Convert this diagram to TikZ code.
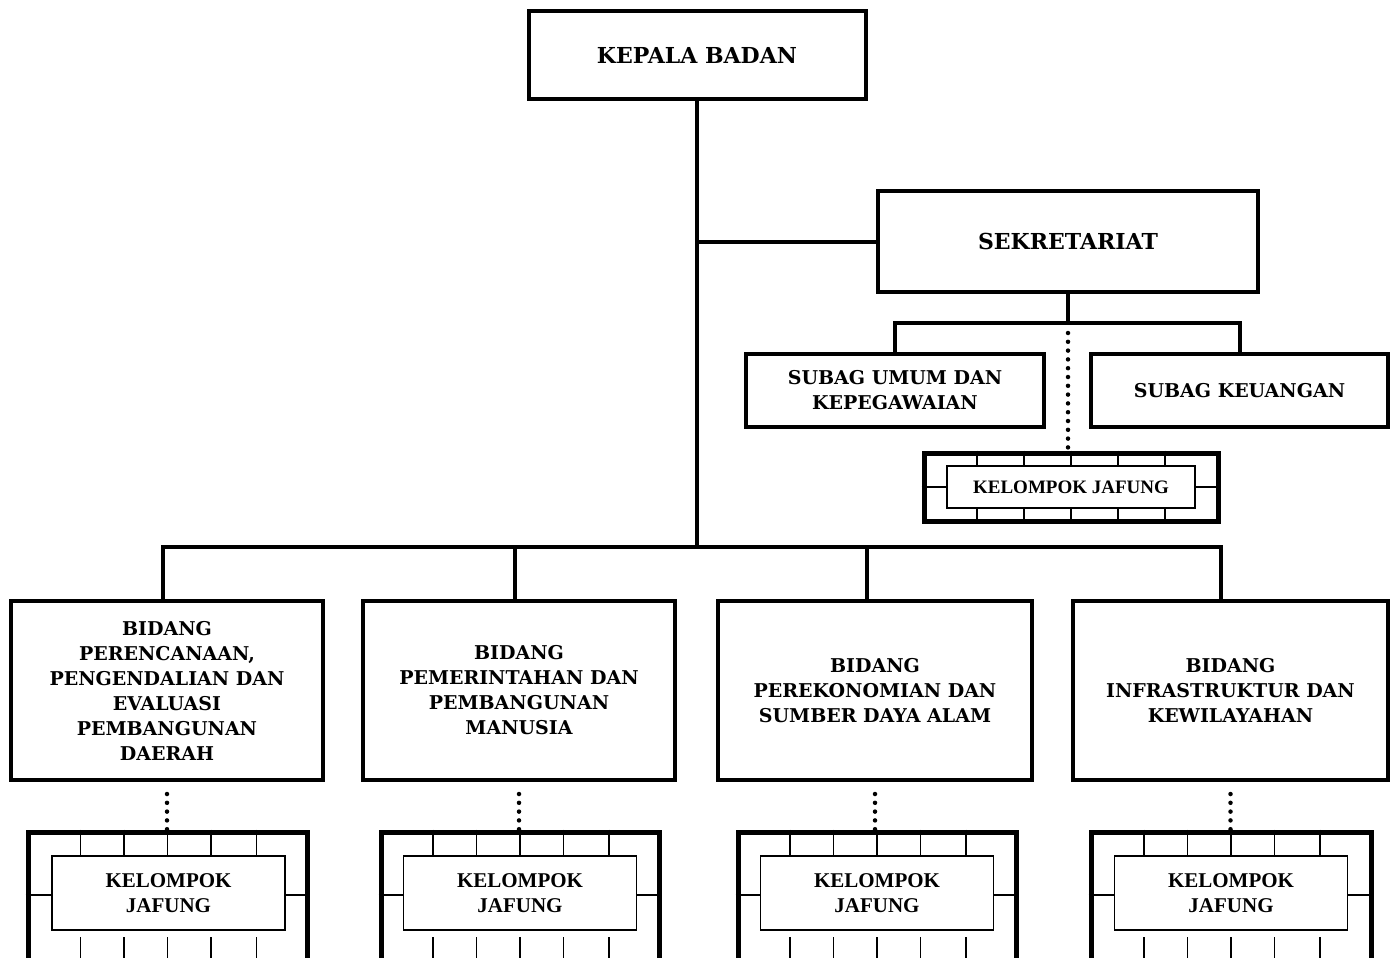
\documentclass[tikz,border=0pt]{standalone}
\usepackage{fontspec}
\setmainfont{DejaVu Serif}
\newfontfamily\jfont{Liberation Serif}
\begin{document}
\begin{tikzpicture}[x=1pt,y=-1pt,
  box/.style={draw, line width=4pt, font=\bfseries\fontsize{19}{25}\selectfont, align=center, inner sep=0pt},
  bigtxt/.style={font=\bfseries\fontsize{22}{25}\selectfont},
  conn/.style={line width=4pt},
  dots/.style={line width=4.5pt, dash pattern=on 0pt off 8.8pt, line cap=round},
  jout/.style={draw, line width=5pt, inner sep=0pt},
  jin/.style={draw, line width=1.5pt, fill=white, align=center, inner sep=0pt},
  jtxtbig/.style={font=\jfont\bfseries\fontsize{21}{25}\selectfont},
  jtxtsmall/.style={font=\jfont\bfseries\fontsize{19}{22}\selectfont},
  tick/.style={line width=1.5pt}]
\useasboundingbox (0,0) rectangle (1397,958);
\clip (0,0) rectangle (1397,958);
\fill[white] (0,0) rectangle (1397,958);

% main boxes
\node[box, bigtxt, minimum width=337pt, minimum height=88pt] (kb) at (697,55) {KEPALA BADAN};
\node[box, bigtxt, minimum width=380pt, minimum height=101pt] (sek) at (1068,241.5) {SEKRETARIAT};
\node[box, minimum width=298pt, minimum height=73pt] (su) at (895,390.5) {SUBAG UMUM DAN\\KEPEGAWAIAN};
\node[box, minimum width=297pt, minimum height=73pt] (sk) at (1239.5,390.5) {SUBAG KEUANGAN};

\node[box, minimum width=312pt, minimum height=179pt, text depth=0pt] (b1) at (167,690.5) {BIDANG\\PERENCANAAN,\\PENGENDALIAN DAN\\EVALUASI\\PEMBANGUNAN\\DAERAH};
\node[box, minimum width=312pt, minimum height=179pt] (b2) at (519,690.5) {BIDANG\\PEMERINTAHAN DAN\\PEMBANGUNAN\\MANUSIA};
\node[box, minimum width=314pt, minimum height=179pt] (b3) at (875,690.5) {BIDANG\\PEREKONOMIAN DAN\\SUMBER DAYA ALAM};
\node[box, minimum width=315pt, minimum height=179pt] (b4) at (1230.5,690.5) {BIDANG\\INFRASTRUKTUR DAN\\KEWILAYAHAN};

% small jafung
\node[jout, minimum width=294pt, minimum height=68pt] (j0o) at (1071,487) {};
\foreach \dx in {-94,-47,0,47,94} {
  \draw[tick] ([xshift=\dx pt]j0o.north) -- ++(0,24);
  \draw[tick] ([xshift=\dx pt]j0o.south) -- ++(0,-24);
}
\draw[tick] (j0o.west) -- (j0o.east);
\node[jin, jtxtsmall, minimum width=248pt, minimum height=42pt] (j0) at (1071,487) {KELOMPOK JAFUNG};

% big jafung
\foreach \n/\cx/\w in {j1/167.5/279, j2/520/278, j3/877/278, j4/1231/280} {
  \node[jout, minimum width=\w pt, minimum height=152pt] (\n o) at (\cx,908) {};
  \foreach \dx in {-87,-43.5,0,43.5,89} {
    \draw[tick] ([xshift=\dx pt]\n o.north) -- ++(0,28);
    \draw[tick] ([xshift=\dx pt]\n o.south) -- ++(0,-50);
  }
  \draw[tick] (\n o.west |- 0,895) -- (\n o.east |- 0,895);
}
\node[jin, jtxtbig, minimum width=233pt, minimum height=74pt] (j1) at (168.5,893) {KELOMPOK\\JAFUNG};
\node[jin, jtxtbig, minimum width=233pt, minimum height=74pt] (j2) at (520,893) {KELOMPOK\\JAFUNG};
\node[jin, jtxtbig, minimum width=233pt, minimum height=74pt] (j3) at (877,893) {KELOMPOK\\JAFUNG};
\node[jin, jtxtbig, minimum width=233pt, minimum height=74pt] (j4) at (1231,893) {KELOMPOK\\JAFUNG};

% connectors
\coordinate (bus) at (kb.south |- 0,547);
\draw[conn] (kb.south) -- (bus);
\draw[conn] (kb.south |- sek.west) -- (sek.west);
\coordinate (d1) at ([xshift=-4pt]b1.north);
\coordinate (d2) at ([xshift=-4pt]b2.north);
\coordinate (d3) at ([xshift=-8pt]b3.north);
\coordinate (d4) at ([xshift=-10pt]b4.north);
\draw[conn] (d1) |- (d4 |- bus) -- (d4);
\draw[conn] (d2) -- (d2 |- bus);
\draw[conn] (d3) -- (d3 |- bus);

\coordinate (sbus) at (sek.south |- 0,323);
\draw[conn] (sek.south) -- (sbus);
\draw[conn] (su.north) |- (sbus) -| (sk.north);

% dotted
\draw[dots] ([yshift=-10pt]sbus) -- (sbus |- j0o.north);
\draw[dots] ([yshift=-12pt]b1.south) -- (b1.south |- j1o.north);
\draw[dots] ([yshift=-12pt]b2.south) -- (b2.south |- j2o.north);
\draw[dots] ([yshift=-12pt]b3.south) -- (b3.south |- j3o.north);
\draw[dots] ([yshift=-12pt]b4.south) -- (b4.south |- j4o.north);
\end{tikzpicture}
\end{document}
